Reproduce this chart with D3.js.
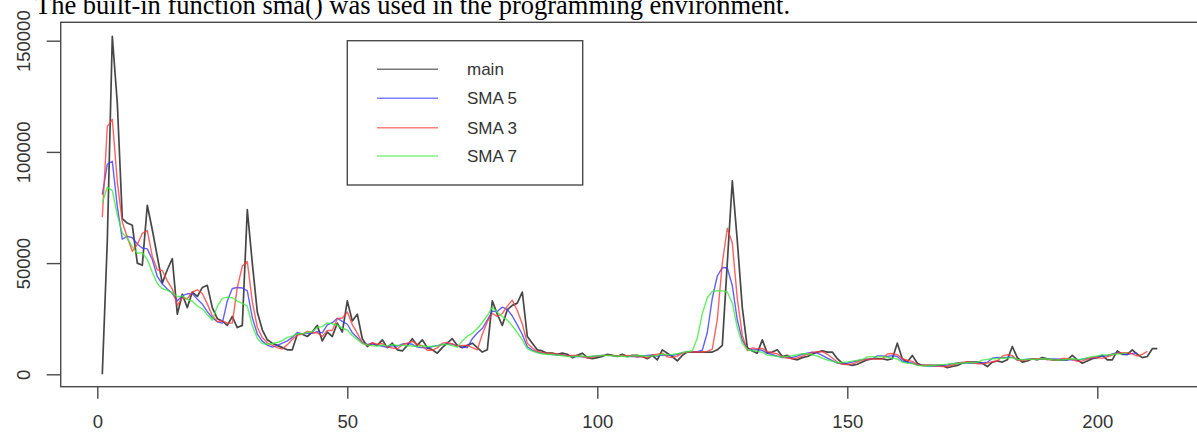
<!DOCTYPE html>
<html><head><meta charset="utf-8">
<script src="https://cdn.jsdelivr.net/npm/d3@7"></script>
<style>body{margin:0;background:#fff}svg{display:block}</style>
</head><body><svg id="c" width="1197" height="432"></svg>
<script>
// main series, index 1..212 (values in thousands)
const mainValues = [
0,60,152,122,70,68,67,50,49,76,
65,53,41,47,52,27,36,30,37,35,
39,40,30,25,24,22,26,21,22,74,
50,28,20,15.5,14,13,12,11,11,18,
18,17,19,22,15,19,17,23,19,33,
24,27,16,12.5,14,13,15.5,12,14,11,
10.5,13,16,13,15.5,12,11,9.5,12,14,
16,13,12,13,14,12,10,11,33,27,
22,29,31,32,37,17,14,11,10.5,9.5,
9.5,9,9.5,9,7.5,8.5,9.5,7.5,7,7.5,
8,9,8.5,8,9,8,8.5,8.5,8,7,
8.5,6.5,11,9.5,8,6,8.5,10,10,10,
10,10,10,11,13,50,87,60,30,12,
10.5,9.5,15.5,9.5,10,11,8,8.5,7,6.5,
7.5,8,9,10,10.5,10,10,7,5,4.5,
4,4.5,5.5,6.5,7,7,7,6.5,7,14,
7,5.5,8.5,5,4,4,4,4,4,3,
3.5,4,5,5.5,5.5,5.5,5,3.5,5.5,6,
5.5,6.5,12.5,7.5,5.5,6,7,6.5,7.5,7,
6.5,6.5,6.5,6.5,8.5,6.5,5,6,7,7.5,
8.5,6.5,6.5,10.5,9,9,11,9,7.5,8,
11.5,11.5
].map(v => v * 1000);

const xTicks = [0, 50, 100, 150, 200];
const yTicks = [0, 50000, 100000, 150000];
const legendLabels = ["main", "SMA 5", "SMA 3", "SMA 7"];
const smaWindows = [5, 3, 7];          // order: SMA 5, SMA 3, SMA 7
const seriesColors = ["#333333", "#3a3aff", "#ff3a3a", "#3aee3a"];
const titleText = "The built-in function sma() was used in the programming environment.";

// simple moving average as R's sma() with leading NAs dropped
function sma(v, n) {
  const out = [];
  for (let i = 0; i + n <= v.length; i++) out.push(d3.mean(v.slice(i, i + n)));
  return out;
}

const svg = d3.select("#c");
svg.append("rect").attr("width", 1197).attr("height", 432).attr("fill", "#fff");

const x = d3.scaleLinear().domain([0, 200]).range([97.3, 1097.3]);
const y = d3.scaleLinear().domain([0, 150000]).range([374.3, 40.7]);

const box = {l: 60.7, t: 22.3, r: 1199.5, b: 386.7};
const axisColor = "#4a4a4a";
const labelFont = "'Liberation Sans', Arial, sans-serif";

// title text (cut at top, as in the source screenshot)
svg.append("text").attr("x", 35).attr("y", 14)
  .attr("font-family", "'Liberation Serif','Times New Roman',serif")
  .attr("font-size", 26.5).attr("fill", "#000").text(titleText);

// lines
const series = [mainValues, ...smaWindows.map(n => sma(mainValues, n))];
const line = d3.line().x((d, i) => x(i + 1)).y(d => y(d));
const g = svg.append("g");
series.forEach((s, k) => {
  g.append("path").datum(s).attr("d", line)
    .attr("fill", "none").attr("stroke", seriesColors[k])
    .attr("stroke-width", k === 0 ? 1.7 : 1.4)
    .attr("stroke-linejoin", "round")
    .attr("opacity", k === 0 ? 0.9 : 0.8);
});

// box
svg.append("rect").attr("x", box.l).attr("y", box.t)
  .attr("width", box.r - box.l).attr("height", box.b - box.t)
  .attr("fill", "none").attr("stroke", axisColor).attr("stroke-width", 1.4);

// y axis
const ya = svg.append("g").attr("transform", `translate(${box.l},0)`)
  .call(d3.axisLeft(y).tickValues(yTicks).tickSize(14).tickFormat(d3.format("d")));
ya.select(".domain").remove();
ya.selectAll(".tick line").attr("stroke", axisColor).attr("stroke-width", 1.4);
ya.selectAll(".tick text")
  .attr("x", null).attr("dy", null)
  .attr("transform", `translate(${29.5 - box.l},0) rotate(-90)`)
  .attr("text-anchor", "middle")
  .attr("font-family", labelFont).attr("font-size", 18.5).attr("fill", "#333");

// x axis
const xa = svg.append("g").attr("transform", `translate(0,${box.b})`)
  .call(d3.axisBottom(x).tickValues(xTicks).tickSize(12).tickFormat(d3.format("d")));
xa.select(".domain").remove();
xa.selectAll(".tick line").attr("stroke", axisColor).attr("stroke-width", 1.4);
xa.selectAll(".tick text").attr("y", 41.3).attr("dy", null)
  .attr("font-family", labelFont).attr("font-size", 18.5).attr("fill", "#333");

// legend
const lg = svg.append("g");
lg.append("rect").attr("x", 347.3).attr("y", 40.7).attr("width", 235.4).attr("height", 144.3)
  .attr("fill", "#fff").attr("stroke", axisColor).attr("stroke-width", 1.4);
const legendY = [69.3, 98.3, 127.7, 156];
legendLabels.forEach((lab, k) => {
  lg.append("line").attr("x1", 377).attr("x2", 438).attr("y1", legendY[k]).attr("y2", legendY[k])
    .attr("stroke", seriesColors[k]).attr("stroke-width", 1.6).attr("opacity", 0.65);
  lg.append("text").attr("x", 467).attr("y", legendY[k] + 6)
    .attr("font-family", labelFont).attr("font-size", 17).attr("fill", "#333").text(lab);
});
</script></body></html>
